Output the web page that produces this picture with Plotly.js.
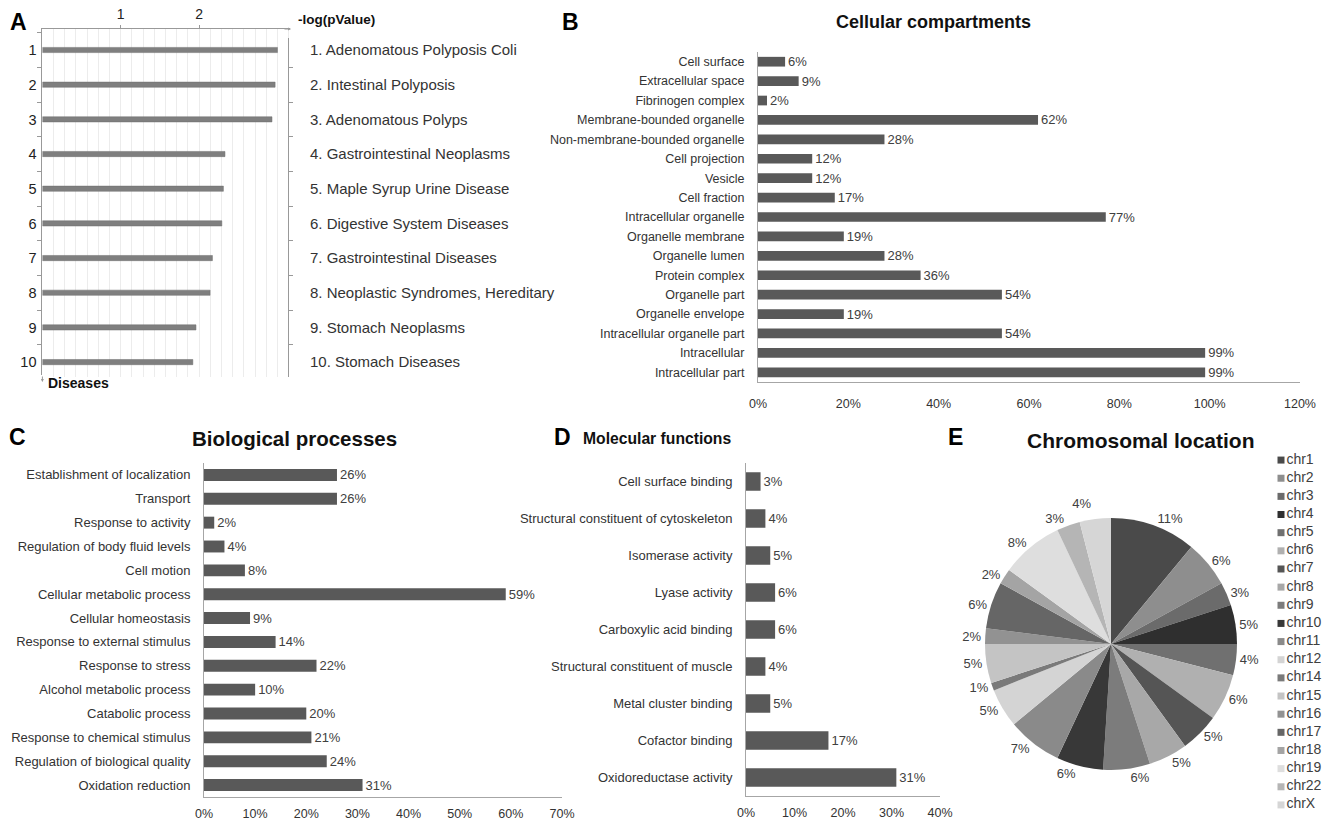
<!DOCTYPE html>
<html><head><meta charset="utf-8">
<script src="https://cdn.plot.ly/plotly-3.0.1.min.js"></script>
<style>html,body{margin:0;padding:0;background:#fff}</style>
</head><body>
<div id="chart" style="width:1324px;height:822px"></div>
<script>
// ---------- DATA ----------
const diseaseIds = [1,2,3,4,5,6,7,8,9,10];
const diseaseNames = ["1. Adenomatous Polyposis Coli","2. Intestinal Polyposis","3. Adenomatous Polyps",
  "4. Gastrointestinal Neoplasms","5. Maple Syrup Urine Disease","6. Digestive System Diseases",
  "7. Gastrointestinal Diseases","8. Neoplastic Syndromes, Hereditary","9. Stomach Neoplasms","10. Stomach Diseases"];
const diseaseLogP = [3.00,2.97,2.93,2.33,2.31,2.29,2.17,2.14,1.96,1.92];

const ccCategories = ["Cell surface","Extracellular space","Fibrinogen complex","Membrane-bounded organelle",
  "Non-membrane-bounded organelle","Cell projection","Vesicle","Cell fraction","Intracellular organelle",
  "Organelle membrane","Organelle lumen","Protein complex","Organelle part","Organelle envelope",
  "Intracellular organelle part","Intracellular","Intracellular part"];
const ccValues = [6,9,2,62,28,12,12,17,77,19,28,36,54,19,54,99,99];

const bpCategories = ["Establishment of localization","Transport","Response to activity",
  "Regulation of body fluid levels","Cell motion","Cellular metabolic process","Cellular homeostasis",
  "Response to external stimulus","Response to stress","Alcohol metabolic process","Catabolic process",
  "Response to chemical stimulus","Regulation of biological quality","Oxidation reduction"];
const bpValues = [26,26,2,4,8,59,9,14,22,10,20,21,24,31];

const mfCategories = ["Cell surface binding","Structural constituent of cytoskeleton","Isomerase activity",
  "Lyase activity","Carboxylic acid binding","Structural constituent of muscle","Metal cluster binding",
  "Cofactor binding","Oxidoreductase activity"];
const mfValues = [3,4,5,6,6,4,5,17,31];

const chrLabels = ["chr1","chr2","chr3","chr4","chr5","chr6","chr7","chr8","chr9","chr10",
  "chr11","chr12","chr14","chr15","chr16","chr17","chr18","chr19","chr22","chrX"];
const chrValues = [11,6,3,5,4,6,5,5,6,6,7,5,1,5,2,6,2,8,3,4];
const chrColors = ["#4a4a4a","#8e8e8e","#6b6b6b","#2f2f2f","#707070","#b0b0b0","#555555","#a8a8a8",
  "#7c7c7c","#383838","#8a8a8a","#d4d4d4","#7a7a7a","#c4c4c4","#929292","#666666","#a4a4a4",
  "#dedede","#b5b5b5","#d6d6d6"];

// ---------- HELPERS ----------
const W = 1324, H = 822;
const px = p => p / W;
const py = p => 1 - p / H;
const FONT = "Liberation Sans, Arial, sans-serif";
const pct = a => a.map(v => v + "%");

const barColor = "#595959";
const axisLine = "#a6a6a6";
const barText = {family:FONT, size:13, color:"#404040"};

const traces = [
  // A (invisible helper on left axis, bars on the row axis so they sit above every grid line)
  {type:"scatter", mode:"markers", x:diseaseLogP, y:diseaseIds, xaxis:"x", yaxis:"y",
   marker:{opacity:0}, hoverinfo:"skip", showlegend:false},
  {type:"bar", orientation:"h", x:diseaseLogP, y:diseaseIds, xaxis:"x", yaxis:"y2",
   width:0.15, marker:{color:"#7f7f7f", line:{color:"#6e6e6e", width:0.5}}, hoverinfo:"skip", showlegend:false},
  // B
  {type:"bar", orientation:"h", x:ccValues, y:ccCategories, xaxis:"x2", yaxis:"y3",
   text:pct(ccValues), textposition:"outside", cliponaxis:false, constraintext:"none",
   textfont:barText, marker:{color:barColor}, hoverinfo:"skip", showlegend:false},
  // C
  {type:"bar", orientation:"h", x:bpValues, y:bpCategories, xaxis:"x3", yaxis:"y4",
   text:pct(bpValues), textposition:"outside", cliponaxis:false, constraintext:"none",
   textfont:barText, marker:{color:barColor}, hoverinfo:"skip", showlegend:false},
  // D
  {type:"bar", orientation:"h", x:mfValues, y:mfCategories, xaxis:"x4", yaxis:"y5",
   text:pct(mfValues), textposition:"outside", cliponaxis:false, constraintext:"none",
   textfont:barText, marker:{color:barColor}, hoverinfo:"skip", showlegend:false},
  // E pie
  {type:"pie", labels:chrLabels, values:chrValues, sort:false, direction:"clockwise", rotation:0,
   marker:{colors:chrColors, line:{width:0}}, textposition:"outside", texttemplate:"%{value}%",
   textfont:{family:FONT, size:13, color:"#404040"}, hoverinfo:"skip", showlegend:false,
   domain:{x:[px(985), px(1237)], y:[py(770), py(518)]}},
  // E legend keys
  {type:"scatter", mode:"markers+text", x:chrLabels.map(() => 0), y:chrLabels.map((_, i) => i),
   xaxis:"x5", yaxis:"y6", text:chrLabels, textposition:"middle right",
   textfont:{family:FONT, size:14, color:"#404040"}, cliponaxis:false,
   marker:{symbol:"square", size:7, color:chrColors}, hoverinfo:"skip", showlegend:false}
];

const catAxis = (domTop, domBot, n, standoff, fs) => ({
  domain:[py(domBot), py(domTop)], type:"category", range:[n-0.5, -0.5],
  showline:true, linecolor:axisLine, linewidth:1, ticks:"", showgrid:false, zeroline:false,
  tickfont:{family:FONT, size:fs, color:"#333"}, ticklabelstandoff:standoff, fixedrange:true
});
const valAxis = (l, r, range, dtick, anchor, standoff) => ({
  domain:[px(l), px(r)], range:range, dtick:dtick, tick0:0, ticksuffix:"%", anchor:anchor,
  showline:true, linecolor:axisLine, linewidth:1, ticks:"", showgrid:false, zeroline:false,
  tickfont:{family:FONT, size:12.5, color:"#333"}, ticklabelstandoff:standoff, fixedrange:true
});

const ann = (x, y, text, size, opts={}) => Object.assign({
  xref:"paper", yref:"paper", x:px(x), y:py(y), text:text, showarrow:false,
  font:{family:FONT, size:size, color:"#111"}, xanchor:"center", yanchor:"middle"
}, opts);
const title = (x, y, text, size) => ann(x, y, "<b>" + text + "</b>", size, {font:{family:FONT, size:size, color:"#111"}});
const letter = (x, y, text) => ann(x, y, "<b>" + text + "</b>", 23, {font:{family:FONT, size:23, color:"#000"}});

const layout = {
  width:W, height:H, margin:{l:0, r:0, t:0, b:0}, paper_bgcolor:"#fff", plot_bgcolor:"rgba(0,0,0,0)",
  font:{family:FONT}, bargap:0.5, showlegend:false,
  // A
  xaxis:{domain:[px(42.4), px(290)], range:[0, 3.16], side:"top", anchor:"y",
    tickvals:[1,2], ticktext:["1","2"], ticks:"outside", ticklen:3, tickcolor:"#999",
    showline:true, linecolor:"#999", showgrid:false, zeroline:false,
    tickfont:{family:FONT, size:14, color:"#222"},
    minor:{tickmode:"linear", tick0:0, dtick:1/7, showgrid:true, gridcolor:"#ececec", gridwidth:1, ticks:""},
    fixedrange:true},
  yaxis:{domain:[py(375), py(29)], range:[10.37, 0.39], anchor:"x",
    tickvals:diseaseIds, ticktext:diseaseIds.map(String), ticks:"",
    minor:{tickmode:"linear", tick0:0.5, dtick:1, ticks:"outside", ticklen:4, tickcolor:"#999", showgrid:false},
    showline:true, linecolor:"#999", showgrid:false, zeroline:false,
    tickfont:{family:FONT, size:14.5, color:"#222"}, ticklabelstandoff:2, fixedrange:true},
  yaxis2:{domain:[py(377), py(38)], range:[10.43, 0.654], anchor:"free", position:px(288), side:"right",
    tickvals:diseaseIds, ticktext:diseaseNames, ticks:"",
    minor:{tickmode:"linear", tick0:0.5, dtick:1, ticks:"outside", ticklen:4, tickcolor:"#999", showgrid:false},
    showline:true, linecolor:"#999", showgrid:false, zeroline:false,
    tickfont:{family:FONT, size:15, color:"#333"}, ticklabelstandoff:18, fixedrange:true},
  // B
  xaxis2:valAxis(758, 1300, [0,120], 20, "y3", 10),
  yaxis3:Object.assign(catAxis(52, 382, ccCategories.length, 10, 12.5), {anchor:"x2"}),
  // C
  xaxis3:valAxis(204, 562, [0,70], 10, "y4", 5),
  yaxis4:Object.assign(catAxis(463, 797, bpCategories.length, 10, 13), {anchor:"x3"}),
  // D
  xaxis4:valAxis(746, 940, [0,40], 10, "y5", 5),
  yaxis5:Object.assign(catAxis(463, 796, mfCategories.length, 10, 13), {anchor:"x4"}),
  // E legend keys
  xaxis5:{domain:[px(1271), px(1291)], range:[-1, 1], visible:false, anchor:"y6", fixedrange:true},
  yaxis6:{domain:[py(814), py(451)], range:[19.5, -0.5], visible:false, anchor:"x5", fixedrange:true},
  annotations:[
    letter(18, 22, "A"), letter(570, 22, "B"), letter(17, 437, "C"), letter(562, 437, "D"), letter(955, 437, "E"),
    title(933, 22, "Cellular compartments", 18),
    title(294, 438, "Biological processes", 20.5),
    title(657, 438, "Molecular functions", 15.7),
    title(1141, 441, "Chromosomal location", 21),
    ann(296, 19, "<b>-log(pValue)</b>", 13.5, {xanchor:"left", font:{family:FONT, size:13.5, color:"#111"}}),
    ann(46, 383, "<b>Diseases</b>", 14, {xanchor:"left", font:{family:FONT, size:14, color:"#111"}}),
    {xref:"paper", yref:"paper", x:px(291), y:py(29), ax:-8, ay:0, text:"", showarrow:true,
     arrowhead:2, arrowsize:0.6, arrowwidth:1, arrowcolor:"#999"},
    {xref:"paper", yref:"paper", x:px(42.4), y:py(382), ax:0, ay:-7, text:"", showarrow:true,
     arrowhead:2, arrowsize:0.6, arrowwidth:1, arrowcolor:"#999"}
  ]
};

Plotly.newPlot("chart", traces, layout, {displayModeBar:false, staticPlot:true}).then(gd => {
  // the reference pie has no leader lines next to its outside labels
  gd.querySelectorAll("path.textline").forEach(p => p.remove());
});
</script>
</body></html>
